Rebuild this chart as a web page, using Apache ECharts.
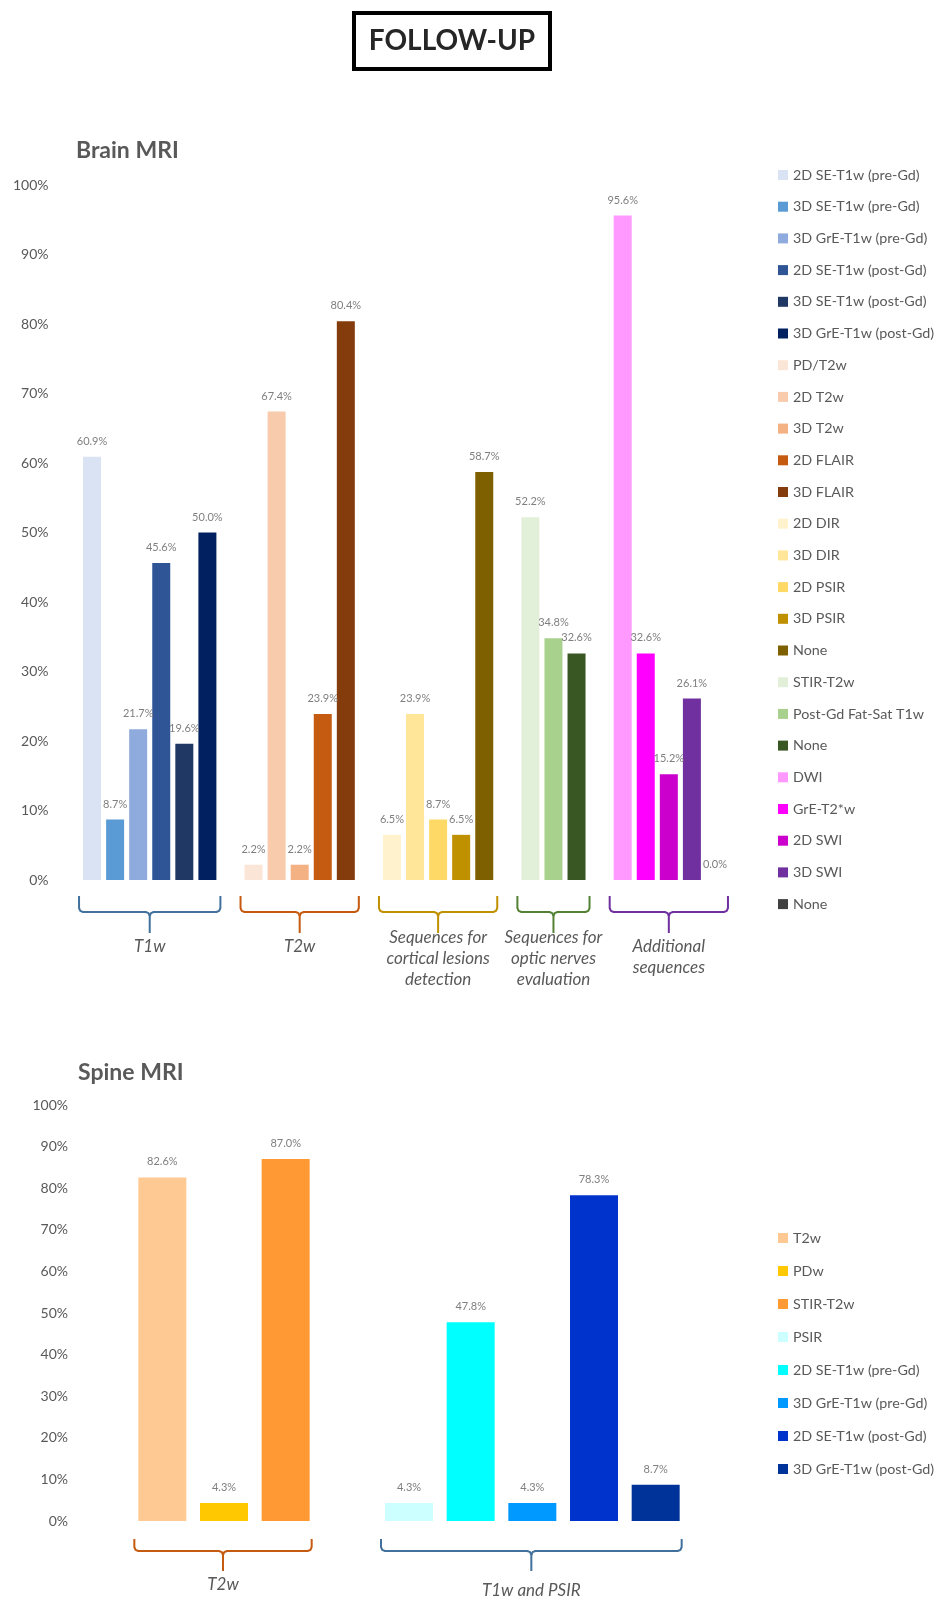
<!DOCTYPE html>
<html><head><meta charset="utf-8">
<script src="https://cdn.jsdelivr.net/npm/echarts@6/dist/echarts.min.js"></script>
<style>html,body{margin:0;padding:0;background:#fff}#c{width:936px;height:1598px}</style>
</head><body><div id="c"></div>
<script>
// ---------- DATA ----------
const pageTitle = 'FOLLOW-UP';
const brainTitle = 'Brain MRI';
const spineTitle = 'Spine MRI';

const brainGroups = ['T1w', 'T2w', 'Sequences for\ncortical lesions\ndetection', 'Sequences for\noptic nerves\nevaluation', 'Additional\nsequences'];
const brainGroupSizes = [6, 5, 5, 3, 5];
const brainSeries = [
  '2D SE-T1w (pre-Gd)', '3D SE-T1w (pre-Gd)', '3D GrE-T1w (pre-Gd)', '2D SE-T1w (post-Gd)', '3D SE-T1w (post-Gd)', '3D GrE-T1w (post-Gd)',
  'PD/T2w', '2D T2w', '3D T2w', '2D FLAIR', '3D FLAIR',
  '2D DIR', '3D DIR', '2D PSIR', '3D PSIR', 'None',
  'STIR-T2w', 'Post-Gd Fat-Sat T1w', 'None',
  'DWI', 'GrE-T2*w', '2D SWI', '3D SWI', 'None'
];
const brainValues = [
  60.9, 8.7, 21.7, 45.6, 19.6, 50.0,
  2.2, 67.4, 2.2, 23.9, 80.4,
  6.5, 23.9, 8.7, 6.5, 58.7,
  52.2, 34.8, 32.6,
  95.6, 32.6, 15.2, 26.1, 0.0
];
const brainColors = [
  '#dae3f3', '#5b9bd5', '#8faadc', '#2f5597', '#203864', '#002060',
  '#fbe5d6', '#f8cbad', '#f4b183', '#c55a11', '#843c0c',
  '#fff2cc', '#ffe699', '#ffd966', '#bf9000', '#7f6000',
  '#e2f0d9', '#a9d18e', '#385723',
  '#ff99ff', '#ff00ff', '#cc00cc', '#7030a0', '#404040'
];
const brainBraceColors = ['#41719c', '#c55a11', '#bf9000', '#548235', '#7030a0'];

const spineGroups = ['T2w', 'T1w and PSIR'];
const spineGroupSizes = [3, 5];
const spineSeries = ['T2w', 'PDw', 'STIR-T2w', 'PSIR', '2D SE-T1w (pre-Gd)', '3D GrE-T1w (pre-Gd)', '2D SE-T1w (post-Gd)', '3D GrE-T1w (post-Gd)'];
const spineValues = [82.6, 4.3, 87.0, 4.3, 47.8, 4.3, 78.3, 8.7];
const spineColors = ['#ffc993', '#ffc800', '#ff9933', '#ccffff', '#00ffff', '#0099ff', '#0033cc', '#003399'];
const spineBraceColors = ['#c55a11', '#41719c'];

const yMin = 0, yMax = 100, yStep = 10;

// ---------- BUILD ----------
function buildSlots(sizes) {
  const slotOf = [], ranges = [];
  let s = 0;
  sizes.forEach((n, g) => {
    if (g > 0) s++; // blank slot between groups
    const first = s;
    for (let k = 0; k < n; k++) slotOf.push(s++);
    ranges.push([first, s - 1]);
  });
  return { slotOf, ranges, total: s };
}
const bS = buildSlots(brainGroupSizes);
const sS = buildSlots(spineGroupSizes);

const FONT = 'Lato, "Open Sans", sans-serif';
const GREY = '#595959';

function makeSeries(names, values, colors, slots, prefix, axis, barW) {
  return names.map((n, i) => {
    const data = new Array(slots.total).fill('-');
    data[slots.slotOf[i]] = values[i];
    return {
      type: 'bar', name: prefix + i + '|' + n,
      xAxisIndex: axis, yAxisIndex: axis,
      data, barWidth: barW, barGap: '-100%',
      itemStyle: { color: colors[i] },
      label: {
        show: true, position: 'top', distance: 10,
        formatter: p => Number(p.value).toFixed(1) + '%',
        fontSize: 11, color: '#7f7f7f', fontFamily: FONT
      },
      emphasis: { disabled: true },
      animation: false
    };
  });
}

const yAxisBase = (margin) => ({
  type: 'value', min: yMin, max: yMax, interval: yStep,
  axisLine: { show: false }, axisTick: { show: false }, splitLine: { show: false },
  axisLabel: { formatter: '{value}%', fontSize: 14, color: GREY, fontFamily: FONT, margin }
});
const xAxisBase = (n, gi) => ({
  type: 'category', gridIndex: gi, data: new Array(n).fill(0).map((_, i) => 's' + i),
  axisLine: { show: false }, axisTick: { show: false }, axisLabel: { show: false }
});

const legendBase = {
  orient: 'vertical', left: 773, icon: 'rect', itemWidth: 10, itemHeight: 10,
  selectedMode: false,
  formatter: n => n.split('|')[1],
  textStyle: { fontSize: 14.3, color: GREY, fontFamily: FONT, lineHeight: 16 }
};

const option = {
  animation: false,
  grid: [
    { left: 80.5, top: 185, width: 646, height: 695 },
    { left: 131.5, top: 1105, width: 555, height: 416 }
  ],
  xAxis: [xAxisBase(bS.total, 0), xAxisBase(sS.total, 1)],
  yAxis: [Object.assign(yAxisBase(32), { gridIndex: 0 }), Object.assign(yAxisBase(63.5), { gridIndex: 1 })],
  legend: [
    Object.assign({}, legendBase, { top: 162, itemGap: 15.7, data: brainSeries.map((n, i) => 'b' + i + '|' + n) }),
    Object.assign({}, legendBase, { top: 1225, itemGap: 17, data: spineSeries.map((n, i) => 's' + i + '|' + n) })
  ],
  series: makeSeries(brainSeries, brainValues, brainColors, bS, 'b', 0, 18)
    .concat(makeSeries(spineSeries, spineValues, spineColors, sS, 's', 1, 48))
};

const chart = echarts.init(document.getElementById('c'), null, { renderer: 'canvas' });
chart.setOption(option);

// ---------- ANNOTATIONS (braces, titles) ----------
const graphics = [];
graphics.push({ type: 'rect', shape: { x: 354, y: 13, width: 196, height: 56 }, style: { fill: '#fff', stroke: '#000', lineWidth: 4 } });
graphics.push({ type: 'text', style: { text: pageTitle, x: 452, y: 41, align: 'center', verticalAlign: 'middle', font: 'bold 28px ' + FONT, fill: '#262626' } });
graphics.push({ type: 'text', style: { text: brainTitle, x: 76, y: 151, align: 'left', verticalAlign: 'middle', font: 'bold 23px ' + FONT, fill: GREY } });
graphics.push({ type: 'text', style: { text: spineTitle, x: 78, y: 1073, align: 'left', verticalAlign: 'middle', font: 'bold 23px ' + FONT, fill: GREY } });

function braces(axis, slots, groups, colors, insetL, insetR, dTop, dMid, dBot, labelOffsets, lh, fs) {
  const base = chart.convertToPixel({ yAxisIndex: axis }, 0);
  slots.ranges.forEach((r, g) => {
    const x1 = chart.convertToPixel({ xAxisIndex: axis }, r[0]) - insetL;
    const x2 = chart.convertToPixel({ xAxisIndex: axis }, r[1]) + insetR;
    const cx = (x1 + x2) / 2;
    const t = base + dTop, m = base + dMid, b = base + dBot;
    const st = { fill: 'none', stroke: colors[g], lineWidth: 2, lineJoin: 'round' };
    graphics.push({ type: 'polyline', shape: { points: [[x1, t], [x1, m - 4], [x1 + 1.2, m - 1.2], [x1 + 4, m], [cx - 4, m], [cx - 1.2, m + 1.2], [cx, m + 4], [cx, b]] }, style: st });
    graphics.push({ type: 'polyline', shape: { points: [[x2, t], [x2, m - 4], [x2 - 1.2, m - 1.2], [x2 - 4, m], [cx + 4, m], [cx + 1.2, m + 1.2], [cx, m + 4]] }, style: st });
    graphics.push({
      type: 'text',
      style: {
        text: groups[g], x: cx, y: base + labelOffsets[g] - lh / 2, align: 'center', verticalAlign: 'top',
        fontStyle: 'italic', fontSize: fs, fontFamily: FONT, fill: GREY, lineHeight: lh
      }
    });
  });
}
braces(0, bS, brainGroups, brainBraceColors, 13, 13, 16, 32, 53, [67, 67, 58, 58, 67], 21, 17);
braces(1, sS, spineGroups, spineBraceColors, 28, 26, 18, 30, 50, [64, 70], 20, 17);

chart.setOption({ graphic: graphics });
</script>
</body></html>
